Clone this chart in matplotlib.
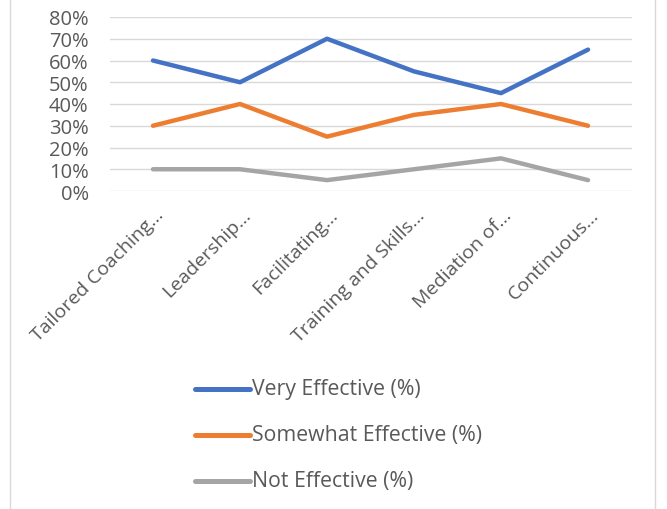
import matplotlib
matplotlib.use("Agg")
import matplotlib.pyplot as plt
import matplotlib.transforms as mtransforms
from matplotlib.lines import Line2D

categories = ["Tailored Coaching...", "Leadership...", "Facilitating...",
              "Training and Skills...", "Mediation of...", "Continuous..."]
very_effective = [60, 50, 70, 55, 45, 65]
somewhat_effective = [30, 40, 25, 35, 40, 30]
not_effective = [10, 10, 5, 10, 15, 5]
series_names = ["Very Effective (%)", "Somewhat Effective (%)", "Not Effective (%)"]
colors = ["#4472C4", "#ED7D31", "#A5A5A5"]

text_color = "#595959"
plt.rcParams['font.family'] = ['Open Sans', 'DejaVu Sans']

fig = plt.figure(figsize=(6.67, 5.10), dpi=100)
W, H = 667, 510
ax = fig.add_axes([109.5 / W, 1 - 192 / H, (631.5 - 109.5) / W, (192 - 18) / H])

x = list(range(len(categories)))
for vals, name, c in zip([very_effective, somewhat_effective, not_effective], series_names, colors):
    ax.plot(x, vals, color=c, lw=3.2, solid_capstyle='round', label=name, zorder=3)

ax.set_xlim(-0.5, len(categories) - 0.5)
ax.set_ylim(0, 80)
ax.set_yticks(range(0, 81, 10))
ax.set_yticklabels([f"{v}%" for v in range(0, 81, 10)], fontsize=14.5, color=text_color)
ax.set_xticks(x)
ax.set_xticklabels(categories, rotation=45, ha='right', va='center', rotation_mode='anchor',
                   fontsize=14, color=text_color)
ax.tick_params(axis='both', length=0)
ax.tick_params(axis='x', pad=15)
ax.tick_params(axis='y', pad=15)
# shift category labels a bit to the right like Excel does
shift = mtransforms.ScaledTranslation(8 / 100, 0, fig.dpi_scale_trans)
for lbl in ax.get_xticklabels():
    lbl.set_transform(lbl.get_transform() + shift)
ax.grid(axis='y', color='#D9D9D9', lw=1)
ax.set_axisbelow(True)
for s in ax.spines.values():
    s.set_visible(False)

# legend, stacked vertically under the axis labels
for i, (name, c) in enumerate(zip(series_names, colors)):
    yy = 1 - (390 + 46 * i) / H
    fig.add_artist(Line2D([195 / W, 250 / W], [yy, yy], color=c, lw=3.6,
                          solid_capstyle='round', transform=fig.transFigure))
    fig.text(252 / W, yy, name, fontsize=15.3, color=text_color, va='center', ha='left')

# chart frame edges
for xx in [10 / W, 655 / W]:
    fig.add_artist(Line2D([xx, xx], [0, 1], color='#D9D9D9', lw=1, transform=fig.transFigure))

fig.savefig("out.png", dpi=100)
